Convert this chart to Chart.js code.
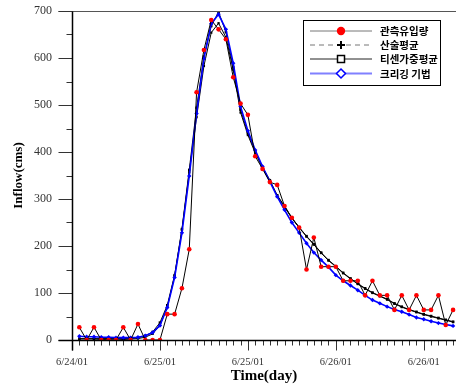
<!DOCTYPE html>
<html>
<head>
<meta charset="utf-8">
<script src="https://cdn.jsdelivr.net/npm/chart.js@4"></script>
<style>
  html, body { margin: 0; padding: 0; background: #fff; }
  #chart { display: block; }
</style>
</head>
<body>
<canvas id="chart" width="456" height="385"></canvas>
<script>
// hours since the start of the time axis (6/24/01 12:00), one sample per hour
const hours = Array.from({ length: 52 }, (_, i) => i + 1);

const observed = [27, 0, 27, 0, 0, 0, 27, 0, 34, 0, 0, 0, 55, 55, 110, 193, 527, 617, 681, 661,
    640, 559, 503, 479, 391, 364, 336, 330, 285, 260, 239, 150, 218, 156, 156, 156, 126, 126, 126, 95,
    126, 95, 95, 64, 95, 64, 95, 64, 64, 95, 32, 64];
const arithmetic = [0, 0, 0, 1, 2, 2, 1, 2, 3, 6, 13, 31, 70, 136, 234, 357, 474, 583, 654, 674,
    644, 575, 484, 436, 398, 366, 338, 307, 283, 259, 239, 220, 203, 185, 169, 156, 142, 130, 119, 109,
    100, 93, 86, 77, 70, 64, 59, 54, 50, 46, 42, 38];
const thiessen = [3, 3, 3, 3, 3, 3, 3, 3, 5, 9, 17, 37, 74, 138, 236, 362, 494, 603, 668, 698,
    655, 580, 490, 440, 401, 368, 340, 308, 285, 260, 240, 221, 204, 186, 170, 157, 143, 131, 120, 110,
    101, 94, 87, 78, 71, 65, 60, 55, 51, 47, 43, 39];
const kriging = [8, 7, 7, 6, 6, 5, 5, 5, 6, 9, 16, 31, 69, 133, 228, 349, 482, 599, 673, 693,
    661, 589, 497, 445, 404, 369, 337, 305, 277, 250, 228, 206, 186, 170, 155, 138, 126, 116, 106, 95,
    85, 78, 71, 65, 60, 54, 48, 44, 40, 36, 33, 30];

const xTickHours = [0, 12, 24, 36, 48];
const xTickLabels = ['6/24/01', '6/25/01', '6/25/01', '6/26/01', '6/26/01'];
const yTicks = [0, 100, 200, 300, 400, 500, 600, 700];

const legendNames = ['관측유입량', '산술평균', '티센가중평균', '크리깅 기법'];

const SERIF = '"Liberation Serif", "Times New Roman", serif';
const KR = '"Noto Sans CJK KR", "Noto Sans", sans-serif';

function toPoints(vals) {
    return vals.map((v, i) => ({ x: hours[i], y: v }));
}

function noPadding(s) {
    s.paddingTop = 0;
    s.paddingBottom = 0;
    s.paddingLeft = 0;
    s.paddingRight = 0;
}

// axis lines, tick marks and the legend box
const framePlugin = {
    id: 'frame',
    afterDraw(chart) {
        const ctx = chart.ctx;
        const xs = chart.scales.x;
        const ys = chart.scales.y;
        const x0 = Math.round(xs.getPixelForValue(0)) + 0.5;
        const y0 = Math.round(ys.getPixelForValue(0)) + 0.5;
        const yTop = Math.round(ys.getPixelForValue(700)) + 0.5;
        const right = chart.width;

        ctx.save();
        // top border
        ctx.strokeStyle = '#555';
        ctx.lineWidth = 1;
        ctx.beginPath();
        ctx.moveTo(x0 - 14, yTop);
        ctx.lineTo(right, yTop);
        ctx.stroke();

        // y ticks
        ctx.strokeStyle = '#333';
        for (let v = 0; v <= 700; v += 50) {
            const py = Math.round(ys.getPixelForValue(v)) + 0.5;
            const len = v % 100 === 0 ? 14 : 6;
            ctx.beginPath();
            ctx.moveTo(x0 - len, py);
            ctx.lineTo(x0, py);
            ctx.stroke();
        }
        // x ticks
        for (let h = 0; h <= 52; h++) {
            const px = Math.round(xs.getPixelForValue(h)) + 0.5;
            const len = h % 12 === 0 ? 10 : 5;
            ctx.beginPath();
            ctx.moveTo(px, y0);
            ctx.lineTo(px, y0 + len);
            ctx.stroke();
        }

        // axis lines
        ctx.strokeStyle = '#000';
        ctx.lineWidth = 1.5;
        ctx.beginPath();
        ctx.moveTo(x0, yTop);
        ctx.lineTo(x0, y0 + 10);
        ctx.moveTo(x0 - 14, y0);
        ctx.lineTo(right, y0);
        ctx.stroke();

        // legend
        const lx = 303.5, ly = 20.5, lw = 137, lh = 65;
        ctx.fillStyle = '#fff';
        ctx.fillRect(lx, ly, lw, lh);
        ctx.strokeStyle = '#000';
        ctx.lineWidth = 1;
        ctx.strokeRect(lx, ly, lw, lh);

        const rows = [31, 45, 59, 73.5];
        const l1 = 310, l2 = 372, mx = 341;
        ctx.font = 'bold 10.5px ' + KR;
        ctx.textBaseline = 'middle';
        rows.forEach((ry, i) => {
            ctx.save();
            ctx.lineWidth = i === 3 ? 2 : 1;
            ctx.strokeStyle = ['#777', '#777', '#222', '#8080ff'][i];
            if (i === 1) ctx.setLineDash([5, 4]);
            ctx.beginPath();
            ctx.moveTo(l1, ry);
            ctx.lineTo(l2, ry);
            ctx.stroke();
            ctx.restore();

            if (i === 0) {
                ctx.fillStyle = '#ff0000';
                ctx.beginPath();
                ctx.arc(mx, ry, 4.2, 0, Math.PI * 2);
                ctx.fill();
            } else if (i === 1) {
                ctx.strokeStyle = '#000';
                ctx.lineWidth = 2;
                ctx.beginPath();
                ctx.moveTo(mx - 4, ry);
                ctx.lineTo(mx + 4, ry);
                ctx.moveTo(mx, ry - 4);
                ctx.lineTo(mx, ry + 4);
                ctx.stroke();
            } else if (i === 2) {
                ctx.fillStyle = '#fff';
                ctx.fillRect(mx - 3.5, ry - 3.5, 7, 7);
                ctx.strokeStyle = '#000';
                ctx.lineWidth = 1.5;
                ctx.strokeRect(mx - 3.5, ry - 3.5, 7, 7);
            } else {
                ctx.fillStyle = '#fff';
                ctx.strokeStyle = '#0000ff';
                ctx.lineWidth = 1.5;
                ctx.beginPath();
                ctx.moveTo(mx, ry - 4.5);
                ctx.lineTo(mx + 4.5, ry);
                ctx.lineTo(mx, ry + 4.5);
                ctx.lineTo(mx - 4.5, ry);
                ctx.closePath();
                ctx.fill();
                ctx.stroke();
            }
            ctx.fillStyle = '#000';
            ctx.fillText(legendNames[i], 380, ry + 0.5);
        });
        ctx.restore();
    },
};

new Chart(document.getElementById('chart'), {
    type: 'line',
    data: {
        datasets: [
            {
                label: legendNames[0],
                data: toPoints(observed),
                borderColor: '#000',
                borderWidth: 1,
                pointStyle: 'circle',
                pointRadius: 2.3,
                pointBackgroundColor: '#ff0000',
                pointBorderColor: '#ff0000',
                pointBorderWidth: 0,
                tension: 0,
            },
            {
                label: legendNames[3],
                data: toPoints(kriging),
                borderColor: '#0000ff',
                borderWidth: 1.6,
                pointStyle: 'rectRot',
                pointRadius: 2.2,
                pointBackgroundColor: '#0000ff',
                pointBorderColor: '#0000ff',
                pointBorderWidth: 0,
                tension: 0,
            },
            {
                label: legendNames[2],
                data: toPoints(thiessen),
                borderColor: '#000',
                borderWidth: 1,
                pointStyle: 'rect',
                pointRadius: 1.8,
                pointBackgroundColor: '#000',
                pointBorderColor: '#000',
                pointBorderWidth: 0,
                tension: 0,
            },
            {
                label: legendNames[1],
                data: toPoints(arithmetic),
                borderColor: '#000',
                borderWidth: 1,
                pointStyle: 'rect',
                pointRadius: 1.6,
                pointBackgroundColor: '#000',
                pointBorderColor: '#000',
                pointBorderWidth: 0,
                tension: 0,
            },
        ],
    },
    options: {
        responsive: false,
        animation: false,
        devicePixelRatio: 1,
        layout: { autoPadding: false, padding: { top: 11, right: 0, left: 0, bottom: 0 } },
        plugins: {
            legend: { display: false },
            tooltip: { enabled: false },
        },
        scales: {
            x: {
                type: 'linear',
                min: 0,
                max: 52.4,
                afterBuildTicks: (s) => {
                    s.ticks = xTickHours.map((v) => ({ value: v }));
                },
                afterFit: (s) => { s.height = 45; noPadding(s); },
                ticks: {
                    autoSkip: false,
                    maxRotation: 0,
                    padding: 16,
                    color: '#333',
                    font: { family: SERIF, size: 10.5 },
                    callback: (v) => {
                        const i = xTickHours.indexOf(v);
                        return i >= 0 ? xTickLabels[i] : '';
                    },
                },
                grid: { display: false, drawTicks: false },
                border: { display: false },
                title: {
                    display: true,
                    text: 'Time(day)',
                    color: '#000',
                    font: { family: SERIF, size: 15, weight: 'bold' },
                    padding: 0,
                },
            },
            y: {
                min: 0,
                max: 700,
                afterBuildTicks: (s) => {
                    s.ticks = yTicks.map((v) => ({ value: v }));
                },
                afterFit: (s) => { s.width = 72; noPadding(s); },
                ticks: {
                    padding: 20,
                    color: '#333',
                    font: { family: SERIF, size: 12 },
                },
                grid: { display: false, drawTicks: false },
                border: { display: false },
                title: {
                    display: true,
                    text: 'Inflow(cms)',
                    color: '#000',
                    font: { family: SERIF, size: 13, weight: 'bold' },
                    padding: { top: 11, bottom: 0 },
                },
            },
        },
    },
    plugins: [framePlugin],
});
</script>
</body>
</html>
